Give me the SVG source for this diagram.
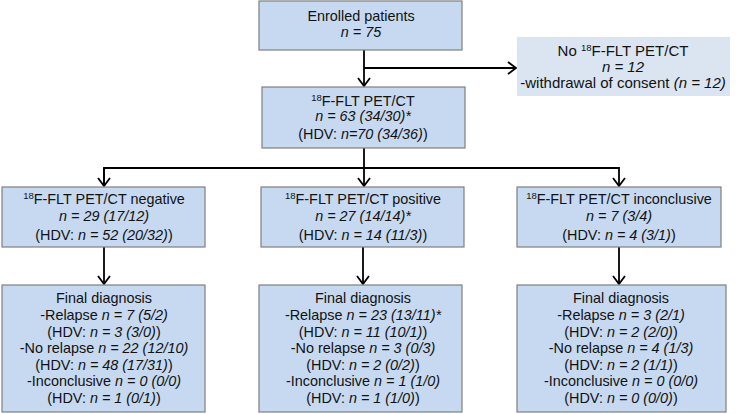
<svg xmlns="http://www.w3.org/2000/svg" width="740" height="414" viewBox="0 0 740 414">
<defs>
<style>
.box{fill:#c6d9f0;stroke:#7f7f7f;stroke-width:1.2}
.box2{fill:#dbe5f1;stroke:none}
text{font-family:"Liberation Sans",Arial,sans-serif;font-size:14.4px;fill:#111;text-anchor:middle}
.big{font-size:15px}
.i{font-style:italic}
.sup{font-size:9.5px}
.c{fill:none;stroke:#000;stroke-width:1.8}
</style>
<marker id="ah" markerWidth="14" markerHeight="14" refX="11" refY="7" orient="auto" markerUnits="userSpaceOnUse">
<path d="M3,1 L11,7 L3,13" fill="none" stroke="#000" stroke-width="1.8"/>
</marker>
</defs>
<rect width="740" height="414" fill="#fff"/>
<g id="connectors">
<path class="c" d="M364,50 V86" marker-end="url(#ah)"/>
<path class="c" d="M364,68 H516" marker-end="url(#ah)"/>
<path class="c" d="M364,148 V186" marker-end="url(#ah)"/>
<path class="c" d="M104,186 V168 H619 V186" marker-end="url(#ah)"/>
<path class="c" d="M104,168 V186" marker-end="url(#ah)"/>
<path class="c" d="M104,247 V284" marker-end="url(#ah)"/>
<path class="c" d="M363,247 V284" marker-end="url(#ah)"/>
<path class="c" d="M619,247 V284" marker-end="url(#ah)"/>
</g>
<g id="enrolled">
<rect class="box" x="259" y="1" width="203" height="49"/>
<text x="361" y="21">Enrolled patients</text>
<text x="361" y="37" class="i">n = 75</text>
</g>
<g id="no-flt">
<rect class="box2" x="517" y="37" width="213" height="59"/>
<text x="623" y="56" class="big">No <tspan class="sup" dy="-5">18</tspan><tspan dy="5">F-FLT PET/CT</tspan></text>
<text x="623" y="72" class="i big">n = 12</text>
<text x="623" y="88" class="big">-withdrawal of consent <tspan class="i">(n = 12)</tspan></text>
</g>
<g id="flt">
<rect class="box" x="262" y="87" width="203" height="61"/>
<text x="363" y="106"><tspan class="sup" dy="-5">18</tspan><tspan dy="5">F-FLT PET/CT</tspan></text>
<text x="363" y="121" class="i">n = 63 (34/30)*</text>
<text x="363" y="139">(HDV: <tspan class="i">n=70 (34/36)</tspan>)</text>
</g>
<g id="negative">
<rect class="box" x="2" y="187" width="203" height="60"/>
<text x="104" y="204"><tspan class="sup" dy="-5">18</tspan><tspan dy="5">F-FLT PET/CT negative</tspan></text>
<text x="104" y="221" class="i">n = 29 (17/12)</text>
<text x="104" y="240">(HDV: <tspan class="i">n = 52 (20/32)</tspan>)</text>
</g>
<g id="positive">
<rect class="box" x="261" y="187" width="203" height="60"/>
<text x="363" y="204"><tspan class="sup" dy="-5">18</tspan><tspan dy="5">F-FLT PET/CT positive</tspan></text>
<text x="363" y="221" class="i">n = 27 (14/14)*</text>
<text x="363" y="240">(HDV: <tspan class="i">n = 14 (11/3)</tspan>)</text>
</g>
<g id="inconclusive">
<rect class="box" x="517" y="187" width="204" height="60"/>
<text x="619" y="204"><tspan class="sup" dy="-5">18</tspan><tspan dy="5">F-FLT PET/CT inconclusive</tspan></text>
<text x="619" y="221" class="i">n = 7 (3/4)</text>
<text x="619" y="240">(HDV: <tspan class="i">n = 4 (3/1)</tspan>)</text>
</g>
<g id="final-negative">
<rect class="box" x="2" y="285" width="203" height="127"/>
<text x="104" y="303">Final diagnosis</text>
<text x="104" y="320">-Relapse <tspan class="i">n = 7 (5/2)</tspan></text>
<text x="104" y="337">(HDV: <tspan class="i">n = 3 (3/0)</tspan>)</text>
<text x="104" y="353">-No relapse <tspan class="i">n = 22 (12/10)</tspan></text>
<text x="104" y="370">(HDV: <tspan class="i">n = 48 (17/31)</tspan>)</text>
<text x="104" y="386">-Inconclusive <tspan class="i">n = 0 (0/0)</tspan></text>
<text x="104" y="403">(HDV: <tspan class="i">n = 1 (0/1)</tspan>)</text>
</g>
<g id="final-positive">
<rect class="box" x="259" y="285" width="203" height="127"/>
<text x="363" y="303">Final diagnosis</text>
<text x="363" y="320">-Relapse <tspan class="i">n = 23 (13/11)*</tspan></text>
<text x="363" y="337">(HDV: <tspan class="i">n = 11 (10/1)</tspan>)</text>
<text x="363" y="353">-No relapse <tspan class="i">n = 3 (0/3)</tspan></text>
<text x="363" y="370">(HDV: <tspan class="i">n = 2 (0/2)</tspan>)</text>
<text x="363" y="386">-Inconclusive <tspan class="i">n = 1 (1/0)</tspan></text>
<text x="363" y="403">(HDV: <tspan class="i">n = 1 (1/0)</tspan>)</text>
</g>
<g id="final-inconclusive">
<rect class="box" x="517" y="285" width="209" height="127"/>
<text x="621" y="303">Final diagnosis</text>
<text x="621" y="320">-Relapse <tspan class="i">n = 3 (2/1)</tspan></text>
<text x="621" y="337">(HDV: <tspan class="i">n = 2 (2/0)</tspan>)</text>
<text x="621" y="353">-No relapse <tspan class="i">n = 4 (1/3)</tspan></text>
<text x="621" y="370">(HDV: <tspan class="i">n = 2 (1/1)</tspan>)</text>
<text x="621" y="386">-Inconclusive <tspan class="i">n = 0 (0/0)</tspan></text>
<text x="621" y="403">(HDV: <tspan class="i">n = 0 (0/0)</tspan>)</text>
</g>
</svg>
